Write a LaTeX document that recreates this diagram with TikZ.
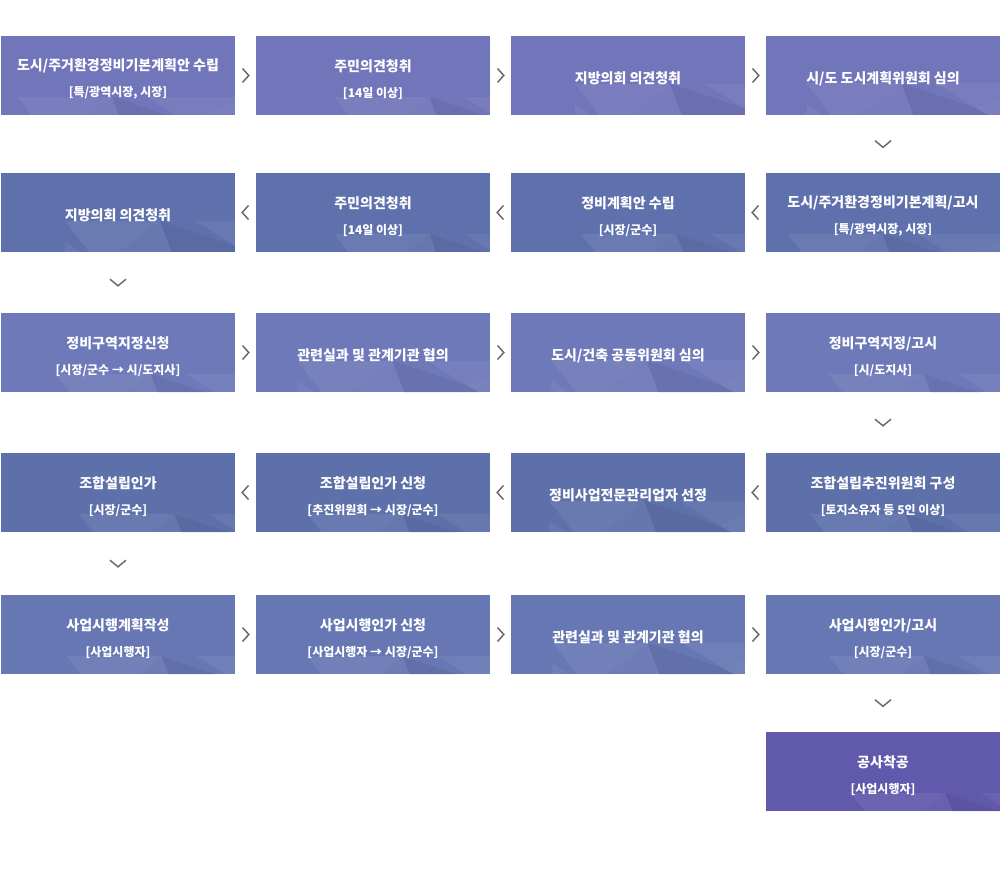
\documentclass[tikz,border=0pt]{standalone}
\usepackage{fontspec}
\setmainfont{Noto Sans CJK KR}
\definecolor{boxA}{HTML}{7175BA}
\definecolor{boxB}{HTML}{5F71AD}
\definecolor{boxC}{HTML}{6D79B8}
\definecolor{boxD}{HTML}{5E70AA}
\definecolor{boxE}{HTML}{6777B3}
\definecolor{boxF}{HTML}{6159AC}
\definecolor{chevgray}{HTML}{6A6A6A}
\tikzset{
  stepbox/.style={rectangle, draw=none, text=white, align=center, inner sep=0pt,
    minimum width=175.5pt, minimum height=59.25pt,
    font=\bfseries\fontsize{10.5}{19.5}\selectfont,
    execute at begin node={\rule{0pt}{13.5pt}},
    path picture={
      \begin{scope}[shift={(path picture bounding box.north west)}, yscale=-1]
        \fill[white, opacity=.07] (0,0) -- (95,0) -- (35,45) -- cycle;
        \fill[black, opacity=.06] (0,79) -- (35,45) -- (80,79) -- cycle;
        \fill[white, opacity=.05] (35,45) -- (95,0) -- (125,79) -- cycle;
        \fill[black, opacity=.05] (95,0) -- (170,25) -- (125,79) -- cycle;
        \fill[white, opacity=.08] (170,25) -- (234,0) -- (234,60) -- cycle;
        \fill[black, opacity=.05] (125,79) -- (170,25) -- (234,60) -- (200,79) -- cycle;
        \fill[white, opacity=.06] (0,20) -- (35,45) -- (0,60) -- cycle;
        \fill[white, opacity=.06] (130,0) -- (234,0) -- (170,25) -- cycle;
      \end{scope}
    }},
  chevron/.style={draw=chevgray, line width=1.1pt},
  nextarrow/.pic={\draw[chevron] (-3,-7) -- (3.3,0) -- (-3,7);},
  backarrow/.pic={\draw[chevron] (3,-7) -- (-3.3,0) -- (3,7);},
  downarrow/.pic={\draw[chevron] (-8,-3.3) -- (0,3.3) -- (8,-3.3);}
}
% title line and [who] line
\newcommand{\twoline}[2]{\rule{0pt}{14.5pt}#1\\ {\fontsize{9}{19.5}\selectfont #2}}
\begin{document}
\begin{tikzpicture}[x=0.75pt, y=-0.75pt]
  \useasboundingbox (0,0) rectangle (1000,870);
  % row 1
  \node (s1)[stepbox, fill=boxA] at (118,75.5) {\twoline{도시/주거환경정비기본계획안 수립}{[특/광역시장, 시장]}};
  \node (s2)[stepbox, fill=boxA] at (373,75.5) {\twoline{주민의견청취}{[14일 이상]}};
  \node (s3)[stepbox, fill=boxA] at (628,75.5) {지방의회 의견청취};
  \node (s4)[stepbox, fill=boxA] at (883,75.5) {시/도 도시계획위원회 심의};
  % row 2
  \node (s5)[stepbox, fill=boxB] at (883,212.5) {\twoline{도시/주거환경정비기본계획/고시}{[특/광역시장, 시장]}};
  \node (s6)[stepbox, fill=boxB] at (628,212.5) {\twoline{정비계획안 수립}{[시장/군수]}};
  \node (s7)[stepbox, fill=boxB] at (373,212.5) {\twoline{주민의견청취}{[14일 이상]}};
  \node (s8)[stepbox, fill=boxB] at (118,212.5) {지방의회 의견청취};
  % row 3
  \node (s9)[stepbox, fill=boxC] at (118,352.5) {\twoline{정비구역지정신청}{[시장/군수 → 시/도지사]}};
  \node (s10)[stepbox, fill=boxC] at (373,352.5) {관련실과 및 관계기관 협의};
  \node (s11)[stepbox, fill=boxC] at (628,352.5) {도시/건축 공동위원회 심의};
  \node (s12)[stepbox, fill=boxC] at (883,352.5) {\twoline{정비구역지정/고시}{[시/도지사]}};
  % row 4
  \node (s13)[stepbox, fill=boxD] at (883,492.5) {\twoline{조합설립추진위원회 구성}{[토지소유자 등 5인 이상]}};
  \node (s14)[stepbox, fill=boxD] at (628,492.5) {정비사업전문관리업자 선정};
  \node (s15)[stepbox, fill=boxD] at (373,492.5) {\twoline{조합설립인가 신청}{[추진위원회 → 시장/군수]}};
  \node (s16)[stepbox, fill=boxD] at (118,492.5) {\twoline{조합설립인가}{[시장/군수]}};
  % row 5
  \node (s17)[stepbox, fill=boxE] at (118,634.5) {\twoline{사업시행계획작성}{[사업시행자]}};
  \node (s18)[stepbox, fill=boxE] at (373,634.5) {\twoline{사업시행인가 신청}{[사업시행자 → 시장/군수]}};
  \node (s19)[stepbox, fill=boxE] at (628,634.5) {관련실과 및 관계기관 협의};
  \node (s20)[stepbox, fill=boxE] at (883,634.5) {\twoline{사업시행인가/고시}{[시장/군수]}};
  % last step
  \node (s21)[stepbox, fill=boxF] at (883,771.5) {\twoline{공사착공}{[사업시행자]}};
  % chevrons
  \path (s1) -- (s2) pic[midway]{nextarrow};
  \path (s2) -- (s3) pic[midway]{nextarrow};
  \path (s3) -- (s4) pic[midway]{nextarrow};
  \path (s4) -- (s5) pic[midway]{downarrow};
  \path (s5) -- (s6) pic[midway]{backarrow};
  \path (s6) -- (s7) pic[midway]{backarrow};
  \path (s7) -- (s8) pic[midway]{backarrow};
  \path (s8) -- (s9) pic[midway]{downarrow};
  \path (s9) -- (s10) pic[midway]{nextarrow};
  \path (s10) -- (s11) pic[midway]{nextarrow};
  \path (s11) -- (s12) pic[midway]{nextarrow};
  \path (s12) -- (s13) pic[midway]{downarrow};
  \path (s13) -- (s14) pic[midway]{backarrow};
  \path (s14) -- (s15) pic[midway]{backarrow};
  \path (s15) -- (s16) pic[midway]{backarrow};
  \path (s16) -- (s17) pic[midway]{downarrow};
  \path (s17) -- (s18) pic[midway]{nextarrow};
  \path (s18) -- (s19) pic[midway]{nextarrow};
  \path (s19) -- (s20) pic[midway]{nextarrow};
  \path (s20) -- (s21) pic[midway]{downarrow};
\end{tikzpicture}
\end{document}
